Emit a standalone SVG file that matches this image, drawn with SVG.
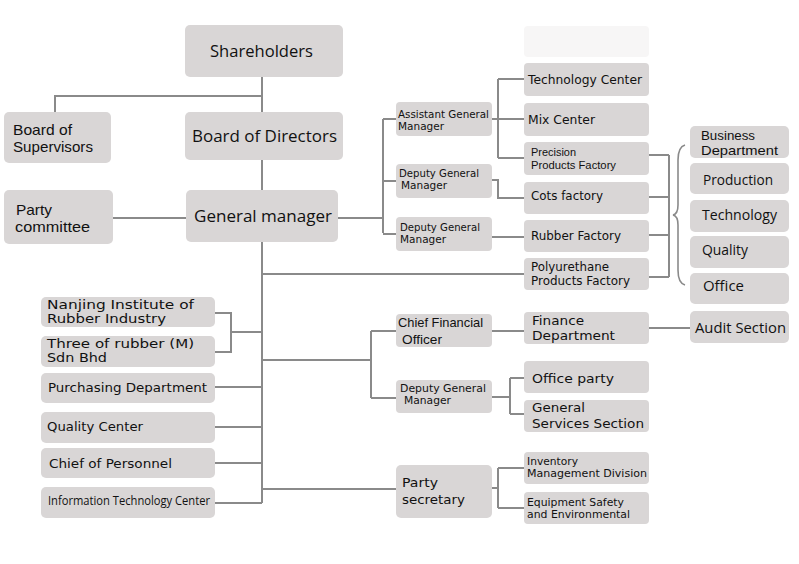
<svg xmlns="http://www.w3.org/2000/svg" width="799" height="564" viewBox="0 0 799 564">
<style>
.b{fill:#d9d6d6}
.e{fill:#f7f6f6}
.c{fill:none;stroke:#8a8a8a;stroke-width:2}
.br{fill:none;stroke:#8a8a8a;stroke-width:1.6}
text{fill:#111;font-family:"Open Sans","DejaVu Sans",sans-serif}
.L{font-size:17px}
.M{font-size:15px}
.m{font-family:"Liberation Sans",Arial,sans-serif}
.v{font-family:"DejaVu Sans",Verdana,sans-serif;font-size:13px}
.s{font-family:"DejaVu Sans",Verdana,sans-serif;font-size:10.2px}
.n{font-size:12px}
</style>
<rect width="799" height="564" fill="#fff"/>
<g id="connectors">
<path class="c" d="M262,77V112M55,112V96H262M262,160V190M113,218H186M338,218H383M383,119V233M383,119H396M383,181H396M383,234H396"/>
<path class="c" d="M492,119H498M498,79V158M498,79H524M498,119H524M498,158H524M492,180H498V198H524M492,237H524M262,274H524"/>
<path class="c" d="M649,155H669M649,197H669M649,235H669M649,277H669M669,155V277"/>
<path class="br" d="M685,145Q678,147 678,160L678,205Q678,214 673,215Q678,216 678,225L678,270Q678,283 685,285"/>
<path class="c" d="M262,242V503M215,313H231V352H215M231,332H262M215,387H262M215,427H262M215,463H262M215,503H262"/>
<path class="c" d="M262,360H371M371,331V398M371,331H396M371,398H396M492,331H524M649,328H690"/>
<path class="c" d="M492,397H510M510,378V414M510,378H524M510,414H524M262,489H396M492,488H498M498,468V508M498,468H524M498,508H524"/>
</g>
<g id="shareholders"><rect class="b" x="185" y="25" width="158" height="52" rx="5"/><text class="L" x="210" y="57" textLength="103" lengthAdjust="spacingAndGlyphs">Shareholders</text></g>
<g id="board-supervisors"><rect class="b" x="4" y="112" width="107" height="51" rx="5"/><text class="m" font-size="15"><tspan x="13" y="135" textLength="59" lengthAdjust="spacingAndGlyphs">Board of</tspan><tspan x="13" y="152" textLength="80" lengthAdjust="spacingAndGlyphs">Supervisors</tspan></text></g>
<g id="board-directors"><rect class="b" x="185" y="112" width="158" height="48" rx="5"/><text class="L" x="192" y="142" textLength="145" lengthAdjust="spacingAndGlyphs">Board of Directors</text></g>
<g id="party-committee"><rect class="b" x="4" y="190" width="109" height="54" rx="5"/><text class="m" font-size="15"><tspan x="16" y="215" textLength="36" lengthAdjust="spacingAndGlyphs">Party</tspan><tspan x="15" y="232" textLength="75" lengthAdjust="spacingAndGlyphs">committee</tspan></text></g>
<g id="general-manager"><rect class="b" x="186" y="190" width="152" height="52" rx="5"/><text class="L" x="194" y="222" textLength="138" lengthAdjust="spacingAndGlyphs">General manager</text></g>
<g id="assistant-gm"><rect class="b" x="396" y="102" width="96" height="34" rx="4"/><text class="s"><tspan x="398" y="118" textLength="91" lengthAdjust="spacingAndGlyphs">Assistant General</tspan><tspan x="398" y="130" textLength="46" lengthAdjust="spacingAndGlyphs">Manager</tspan></text></g>
<g id="deputy-gm-1"><rect class="b" x="396" y="164" width="96" height="34" rx="4"/><text class="s"><tspan x="399" y="177" textLength="80" lengthAdjust="spacingAndGlyphs">Deputy General</tspan><tspan x="401" y="189" textLength="46" lengthAdjust="spacingAndGlyphs">Manager</tspan></text></g>
<g id="deputy-gm-2"><rect class="b" x="396" y="217" width="96" height="34" rx="4"/><text class="s"><tspan x="400" y="231" textLength="80" lengthAdjust="spacingAndGlyphs">Deputy General</tspan><tspan x="400" y="243" textLength="46" lengthAdjust="spacingAndGlyphs">Manager</tspan></text></g>
<g id="empty-box"><rect class="e" x="524" y="26" width="125" height="31" rx="4"/></g>
<g id="technology-center"><rect class="b" x="524" y="63" width="125" height="33" rx="4"/><text class="v" x="528" y="84" textLength="114" lengthAdjust="spacingAndGlyphs">Technology Center</text></g>
<g id="mix-center"><rect class="b" x="524" y="103" width="125" height="33" rx="4"/><text class="v" x="528" y="124" textLength="67" lengthAdjust="spacingAndGlyphs">Mix Center</text></g>
<g id="precision"><rect class="b" x="524" y="142" width="125" height="33" rx="4"/><text class="m" font-size="11.5"><tspan x="531" y="156" textLength="45" lengthAdjust="spacingAndGlyphs">Precision</tspan><tspan x="531" y="169" textLength="85" lengthAdjust="spacingAndGlyphs">Products Factory</tspan></text></g>
<g id="cots-factory"><rect class="b" x="524" y="182" width="125" height="32" rx="4"/><text class="v" x="531" y="200" textLength="72" lengthAdjust="spacingAndGlyphs">Cots factory</text></g>
<g id="rubber-factory"><rect class="b" x="524" y="220" width="125" height="32" rx="4"/><text class="v" x="531" y="240" textLength="90" lengthAdjust="spacingAndGlyphs">Rubber Factory</text></g>
<g id="polyurethane"><rect class="b" x="524" y="258" width="125" height="32" rx="4"/><text class="v" font-size="11"><tspan x="531" y="271" textLength="78" lengthAdjust="spacingAndGlyphs">Polyurethane</tspan><tspan x="531" y="285" textLength="99" lengthAdjust="spacingAndGlyphs">Products Factory</tspan></text></g>
<g id="business-department"><rect class="b" x="690" y="126" width="99" height="32" rx="5"/><text class="m" font-size="13.4"><tspan x="701" y="140" textLength="54" lengthAdjust="spacingAndGlyphs">Business</tspan><tspan x="701" y="155" textLength="77" lengthAdjust="spacingAndGlyphs">Department</tspan></text></g>
<g id="production"><rect class="b" x="690" y="163" width="99" height="31" rx="5"/><text class="M" x="703" y="185" textLength="70" lengthAdjust="spacingAndGlyphs">Production</text></g>
<g id="technology"><rect class="b" x="690" y="200" width="99" height="32" rx="5"/><text class="M" x="702" y="220" textLength="75" lengthAdjust="spacingAndGlyphs">Technology</text></g>
<g id="quality"><rect class="b" x="690" y="236" width="99" height="32" rx="5"/><text class="M" x="702" y="255" textLength="46" lengthAdjust="spacingAndGlyphs">Quality</text></g>
<g id="office"><rect class="b" x="690" y="273" width="99" height="31" rx="5"/><text class="M" x="703" y="291" textLength="41" lengthAdjust="spacingAndGlyphs">Office</text></g>
<g id="audit-section"><rect class="b" x="690" y="311" width="99" height="32" rx="5"/><text class="M" x="695" y="333" textLength="91" lengthAdjust="spacingAndGlyphs">Audit Section</text></g>
<g id="nanjing"><rect class="b" x="41" y="297" width="174" height="30" rx="5"/><text class="v" font-size="11"><tspan x="47" y="309" textLength="147" lengthAdjust="spacingAndGlyphs">Nanjing Institute of</tspan><tspan x="47" y="323" textLength="119" lengthAdjust="spacingAndGlyphs">Rubber Industry</tspan></text></g>
<g id="three-of-rubber"><rect class="b" x="41" y="336" width="174" height="31" rx="5"/><text class="v" font-size="11"><tspan x="47" y="348" textLength="147" lengthAdjust="spacingAndGlyphs">Three of rubber (M)</tspan><tspan x="47" y="362" textLength="60" lengthAdjust="spacingAndGlyphs">Sdn Bhd</tspan></text></g>
<g id="purchasing"><rect class="b" x="41" y="373" width="174" height="30" rx="5"/><text class="v" x="48" y="392" textLength="159" lengthAdjust="spacingAndGlyphs">Purchasing Department</text></g>
<g id="quality-center"><rect class="b" x="41" y="412" width="174" height="31" rx="5"/><text class="v" x="47" y="431" textLength="96" lengthAdjust="spacingAndGlyphs">Quality Center</text></g>
<g id="chief-personnel"><rect class="b" x="41" y="448" width="174" height="30" rx="5"/><text class="v" x="49" y="468" textLength="123" lengthAdjust="spacingAndGlyphs">Chief of Personnel</text></g>
<g id="info-tech"><rect class="b" x="41" y="487" width="174" height="31" rx="5"/><text class="n" x="48" y="505" font-size="13" textLength="162" lengthAdjust="spacingAndGlyphs">Information Technology Center</text></g>
<g id="cfo"><rect class="b" x="396" y="314" width="96" height="33" rx="4"/><text class="m" font-size="13.5"><tspan x="398" y="327" textLength="85" lengthAdjust="spacingAndGlyphs">Chief Financial</tspan><tspan x="402" y="344" textLength="40" lengthAdjust="spacingAndGlyphs">Officer</tspan></text></g>
<g id="finance"><rect class="b" x="524" y="312" width="125" height="32" rx="4"/><text class="v" font-size="12.8"><tspan x="532" y="325" textLength="52" lengthAdjust="spacingAndGlyphs">Finance</tspan><tspan x="532" y="340" textLength="83" lengthAdjust="spacingAndGlyphs">Department</tspan></text></g>
<g id="deputy-gm-3"><rect class="b" x="396" y="380" width="96" height="33" rx="4"/><text class="s"><tspan x="400" y="392" textLength="86" lengthAdjust="spacingAndGlyphs">Deputy General</tspan><tspan x="404" y="404" textLength="47" lengthAdjust="spacingAndGlyphs">Manager</tspan></text></g>
<g id="office-party"><rect class="b" x="524" y="361" width="125" height="32" rx="4"/><text class="v" x="532" y="383" font-size="15" textLength="82" lengthAdjust="spacingAndGlyphs">Office party</text></g>
<g id="general-services"><rect class="b" x="524" y="400" width="125" height="32" rx="4"/><text class="v" font-size="13.5"><tspan x="532" y="412" textLength="53" lengthAdjust="spacingAndGlyphs">General</tspan><tspan x="532" y="428" textLength="112" lengthAdjust="spacingAndGlyphs">Services Section</tspan></text></g>
<g id="party-secretary"><rect class="b" x="396" y="465" width="96" height="53" rx="5"/><text class="v" font-size="14.5"><tspan x="402" y="487" textLength="36" lengthAdjust="spacingAndGlyphs">Party</tspan><tspan x="402" y="504" textLength="63" lengthAdjust="spacingAndGlyphs">secretary</tspan></text></g>
<g id="inventory"><rect class="b" x="524" y="452" width="125" height="32" rx="4"/><text class="s"><tspan x="527" y="465" textLength="51" lengthAdjust="spacingAndGlyphs">Inventory</tspan><tspan x="527" y="477" textLength="120" lengthAdjust="spacingAndGlyphs">Management Division</tspan></text></g>
<g id="equipment"><rect class="b" x="524" y="492" width="125" height="32" rx="4"/><text class="s"><tspan x="527" y="506" textLength="97" lengthAdjust="spacingAndGlyphs">Equipment Safety</tspan><tspan x="527" y="518" textLength="103" lengthAdjust="spacingAndGlyphs">and Environmental</tspan></text></g>
</svg>
